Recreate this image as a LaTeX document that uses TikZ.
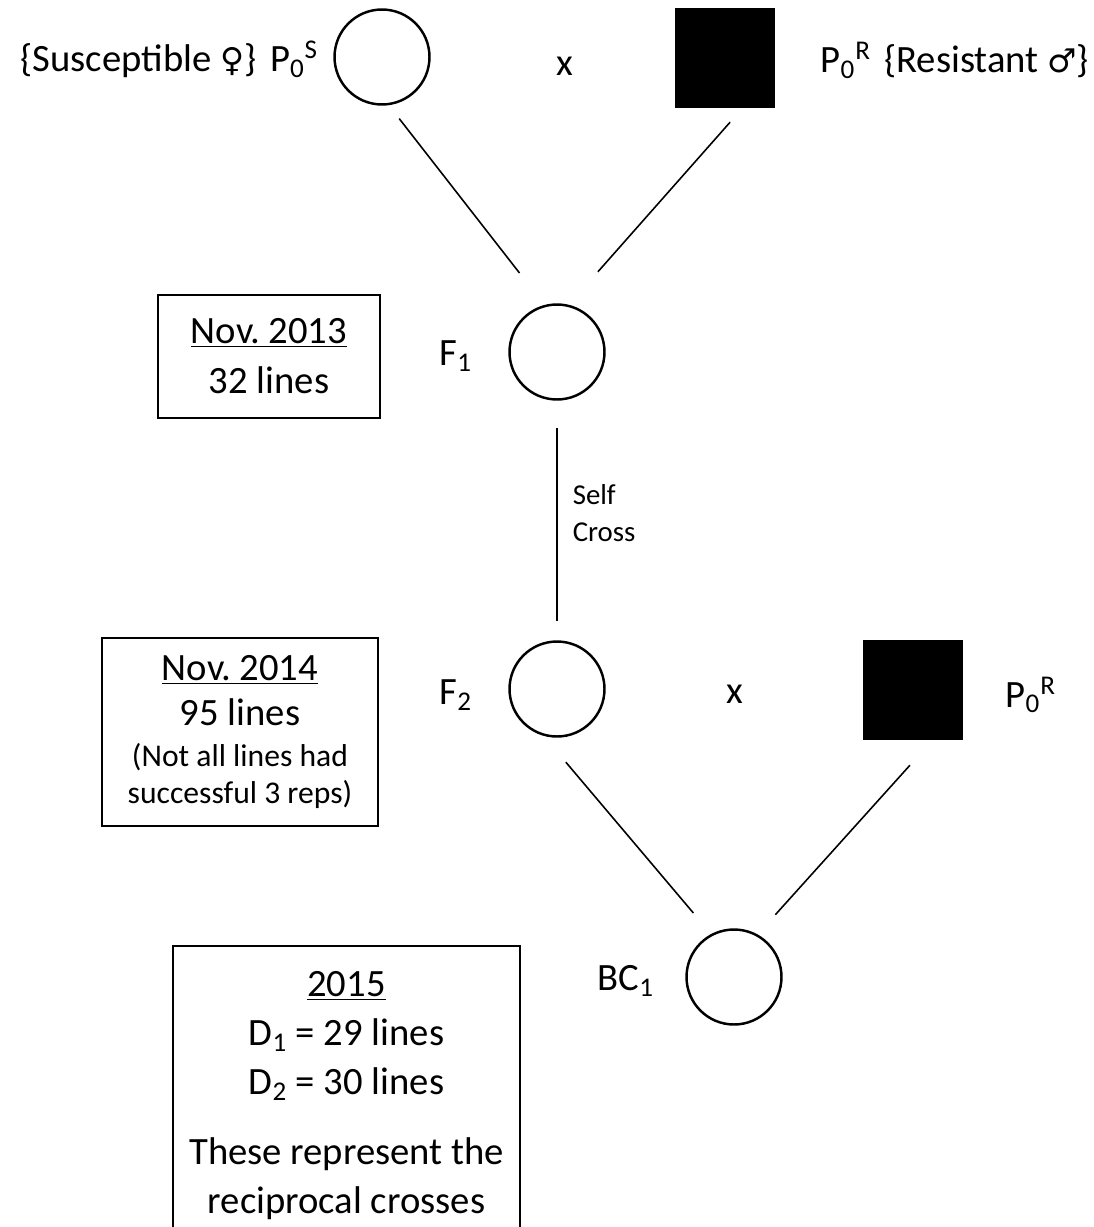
\documentclass[tikz,border=0pt]{standalone}
\usepackage{fontspec}
\setmainfont{Carlito}
\newfontfamily\symfont{DejaVu Sans}[Scale=0.85]
\usepackage{tikz}
\usetikzlibrary{positioning}
\setlength{\parindent}{0pt}
\frenchspacing

\begin{document}
\begin{tikzpicture}[x=0.02cm, y=-0.02cm, font=\fontsize{22}{28}\selectfont]
  \tikzset{femalenode/.style={draw, circle, line width=1.4pt, minimum size=1.9cm, inner sep=0pt},
           malenode/.style={rectangle, fill=black, minimum size=2cm, inner sep=0pt},
           tag/.style={inner sep=0pt},
           notebox/.style={draw, line width=1.1pt, align=flush center, inner xsep=0pt},
           link/.style={line width=0.9pt}}

  \useasboundingbox (0,0) rectangle (1093,1227);
  \clip (0,0) rectangle (1093,1227);

  % parents
  \node[femalenode] (ps) at (382,57) {};
  \node[malenode] (pr) at (725,58) {};
  \node[tag] (cross1) at (565,66) {x};
  \node[tag, left=0.3cm of ps, yshift=-0.05cm] (pslabel) {\{Susceptible {\symfont ♀}\}\hspace{0.35em}P\textsubscript{0}\textsuperscript{S}};
  \node[tag, right=0.9cm of pr, yshift=-0.05cm] (prlabel) {P\textsubscript{0}\textsuperscript{R}\hspace{0.35em}\{Resistant {\symfont ♂}\}};

  % F1 and F2
  \node[femalenode] (f1) at (557,352) {};
  \node[tag, left=0.72cm of f1, yshift=-0.08cm] (f1label) {F\textsubscript{1}};
  \node[femalenode] (f2) at (557,689) {};
  \node[tag, left=0.72cm of f2, yshift=-0.12cm] (f2label) {F\textsubscript{2}};
  \node[tag] (cross2) at (735,694) {x};
  \node[malenode] (pr2) at (913,690) {};
  \node[tag, right=0.84cm of pr2, yshift=-0.1cm] (pr2label) {P\textsubscript{0}\textsuperscript{R}};

  % backcross
  \node[femalenode] (bc) at (734,977) {};
  \node[tag, left=0.62cm of bc, yshift=-0.08cm] (bclabel) {BC\textsubscript{1}};

  \draw[link, shorten <=0.34cm, shorten >=0.81cm] (ps.-82) -- (f1.105);
  \draw[link, shorten <=0.37cm, shorten >=0.88cm] (pr.-71) -- (f1.76);
  \draw[link, shorten <=0.54cm, shorten >=0.38cm] (f1.south) --
    node[pos=0.47, right=0.3cm, inner sep=0pt, align=left, font=\fontsize{16.4}{21}\selectfont] (selflabel) {Self\\Cross} (f2.north);
  \draw[link, shorten <=0.69cm, shorten >=0.55cm] (f2.-106) -- (bc.118);
  \draw[link, shorten <=0.67cm, shorten >=0.53cm] (pr2.-69) -- (bc.61);

  % notes
  \node[notebox, text width=4.44cm, minimum height=2.46cm, font=\fontsize{22}{28.4}\selectfont] (nov13) at (269,356.5)
    {\underline{Nov. 2013}\\32 lines};
  \node[notebox, text width=5.52cm, minimum height=3.76cm, font=\fontsize{22}{25.6}\selectfont] (nov14) at (240,732)
    {\underline{Nov. 2014}\\95 lines\par\vspace{0.08cm}{\fontsize{18}{21}\selectfont (Not all lines had\\successful 3 reps)\par}\vspace{0.3cm}};
  \node[notebox, anchor=north, text width=6.94cm, inner ysep=0.51cm, font=\fontsize{22}{27.9}\selectfont] (y2015) at (346.5,945)
    {\underline{2015}\\D\textsubscript{1} = 29 lines\\D\textsubscript{2} = 30 lines\par\vspace{0.42cm}These represent the\\reciprocal crosses};
\end{tikzpicture}
\end{document}
